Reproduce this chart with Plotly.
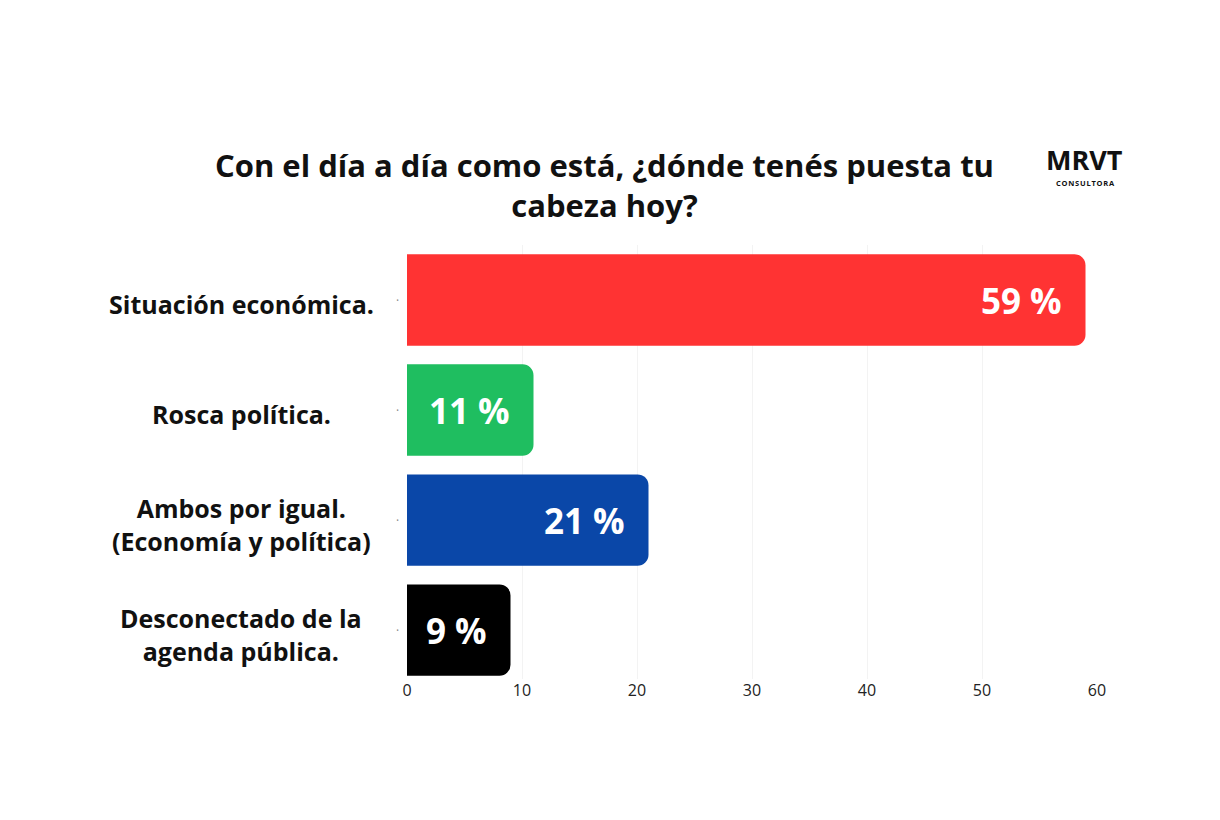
import plotly.graph_objects as go

categories = ["Situación económica.", "Rosca política.", "Ambos por igual.<br>(Economía y política)", "Desconectado de la<br>agenda pública."]
values = [59, 11, 21, 9]
labels = ["59 %", "11 %", "21 %", "9 %"]
colors = ["#FF3333", "#1FBE60", "#0A47A8", "#000000"]
x_ticks = [0, 10, 20, 30, 40, 50, 60]

W, H = 1220, 820
ml, mr, mt, mb = 407, 123, 245, 141
pw = W - ml - mr
ph = H - mt - mb


def py(p):
    """paper y for a pixel row p measured from the top"""
    return (H - mb - p) / ph


fig = go.Figure(go.Bar(
    x=values, y=categories, orientation="h",
    marker=dict(color=colors, cornerradius=11, line=dict(width=0)),
    hoverinfo="skip",
))

fig.update_layout(
    width=W, height=H, margin=dict(l=ml, r=mr, t=mt, b=mb),
    paper_bgcolor="white", plot_bgcolor="white",
    bargap=0.17, showlegend=False,
    font=dict(family="Open Sans"),
    xaxis=dict(range=[0, 60], tickvals=x_ticks, showgrid=True, gridcolor="#F3F3F3",
               zeroline=False, showline=False, ticks="",
               tickfont=dict(family="Open Sans", size=16, color="#222222")),
    yaxis=dict(range=[3.445, -0.5], showticklabels=False, showgrid=False, zeroline=False,
               ticks="", showline=False),
)

for c, v, t in zip(categories, values, labels):
    fig.add_annotation(x=(241 - ml) / pw, xref="paper", y=c, yref="y", text="<b>" + c + "</b>",
                       showarrow=False, xanchor="center", yanchor="middle", align="center",
                       yshift=-4,
                       font=dict(family="Open Sans", size=25, color="#111111"))
    fig.add_annotation(x=v, xref="x", y=c, yref="y", text="<b>" + t + "</b>", xshift=-22,
                       showarrow=False, xanchor="right", yanchor="middle",
                       font=dict(family="Open Sans", size=35, color="white"))
    fig.add_annotation(x=0, xref="x", y=c, yref="y", text="·", xshift=-10,
                       showarrow=False, xanchor="center", yanchor="middle",
                       font=dict(family="Open Sans", size=12, color="#888888"))

fig.add_annotation(x=(604 - ml) / pw, xref="paper", y=py(185), yref="paper",
                   text="<b>Con el día a día como está, ¿dónde tenés puesta tu<br>cabeza hoy?</b>",
                   showarrow=False, xanchor="center", yanchor="middle", align="center",
                   font=dict(family="Open Sans", size=31, color="#111111"))
fig.add_annotation(x=(1084 - ml) / pw, xref="paper", y=py(159), yref="paper",
                   text="<b>MRVT</b>", showarrow=False, xanchor="center", yanchor="middle",
                   borderpad=0,
                   font=dict(family="Open Sans", size=27, color="#111111"))
fig.add_annotation(x=(1085 - ml) / pw, xref="paper", y=py(183), yref="paper",
                   text="<b>C\u200aO\u200aN\u200aS\u200aU\u200aL\u200aT\u200aO\u200aR\u200aA</b>", showarrow=False,
                   xanchor="center", yanchor="middle", borderpad=0,
                   font=dict(family="Open Sans", size=7.5, color="#111111"))

fig.write_html("out.html")
